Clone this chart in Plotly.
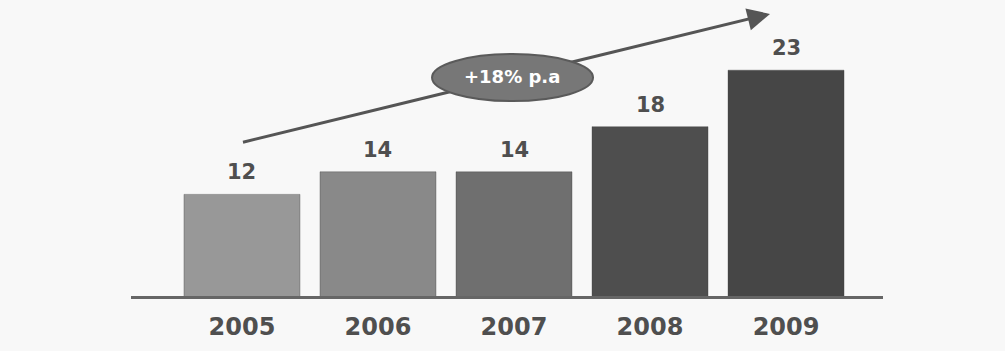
import plotly.graph_objects as go

years = ["2005", "2006", "2007", "2008", "2009"]
values = [12, 14, 14, 18, 23]
bar_colors = ["#989898", "#898989", "#6f6f6f", "#4e4e4e", "#464646"]
growth_label = "+18% p.a"

TEXT = "#4f4f4f"
FONT = "DejaVu Sans"

fig = go.Figure()
fig.add_trace(go.Bar(
    x=years, y=values,
    marker=dict(color=bar_colors, line=dict(color="rgba(60,60,60,0.35)", width=1)),
    width=0.853,
    hoverinfo="skip",
))

for i, v in enumerate(values):
    fig.add_annotation(x=i, y=v, xref="x", yref="y", text=f"<b>{v}</b>",
                       showarrow=False, yanchor="bottom", yshift=8,
                       font=dict(family=FONT, size=21, color=TEXT))

# trend arrow line (below ellipse)
fig.add_shape(type="line", xref="paper", yref="paper",
              x0=0.1489, y0=0.5377, x1=0.845, y1=0.984,
              line=dict(color="#555555", width=3))
# ellipse badge
fig.add_shape(type="circle", xref="paper", yref="paper",
              x0=0.4003, x1=0.6144, y0=0.6815, y1=0.8459,
              fillcolor="#777777", line=dict(color="#5a5a5a", width=2))
fig.add_annotation(xref="paper", yref="paper", x=0.5066, y=0.767,
                   xanchor="center", yanchor="middle",
                   text=f"<b>{growth_label}</b>", showarrow=False,
                   font=dict(family=FONT, size=18, color="white"))
# arrow head
fig.add_annotation(xref="paper", yref="paper", x=0.8497, y=0.9863,
                   text="", showarrow=True, ax=-19.4, ay=4.8,
                   arrowhead=2, arrowsize=1.5, arrowwidth=3,
                   arrowcolor="#555555", standoff=0, startstandoff=0)

fig.update_layout(
    width=1005, height=351,
    margin=dict(l=131, r=122, t=10, b=49),
    paper_bgcolor="#f8f8f8",
    plot_bgcolor="rgba(0,0,0,0)",
    showlegend=False,
    xaxis=dict(
        type="category", range=[-0.816, 4.713],
        showgrid=False, zeroline=False,
        showline=True, linecolor="#666666", linewidth=3,
        ticks="outside", ticklen=7, tickcolor="rgba(0,0,0,0)",
        tickfont=dict(family=FONT, size=24, color=TEXT),
        tickvals=years, ticktext=[f"<b>{y}</b>" for y in years],
        fixedrange=True,
    ),
    yaxis=dict(
        range=[3, 28.33], visible=False, showgrid=False, zeroline=False,
        fixedrange=True,
    ),
)

fig.write_html("out.html")
